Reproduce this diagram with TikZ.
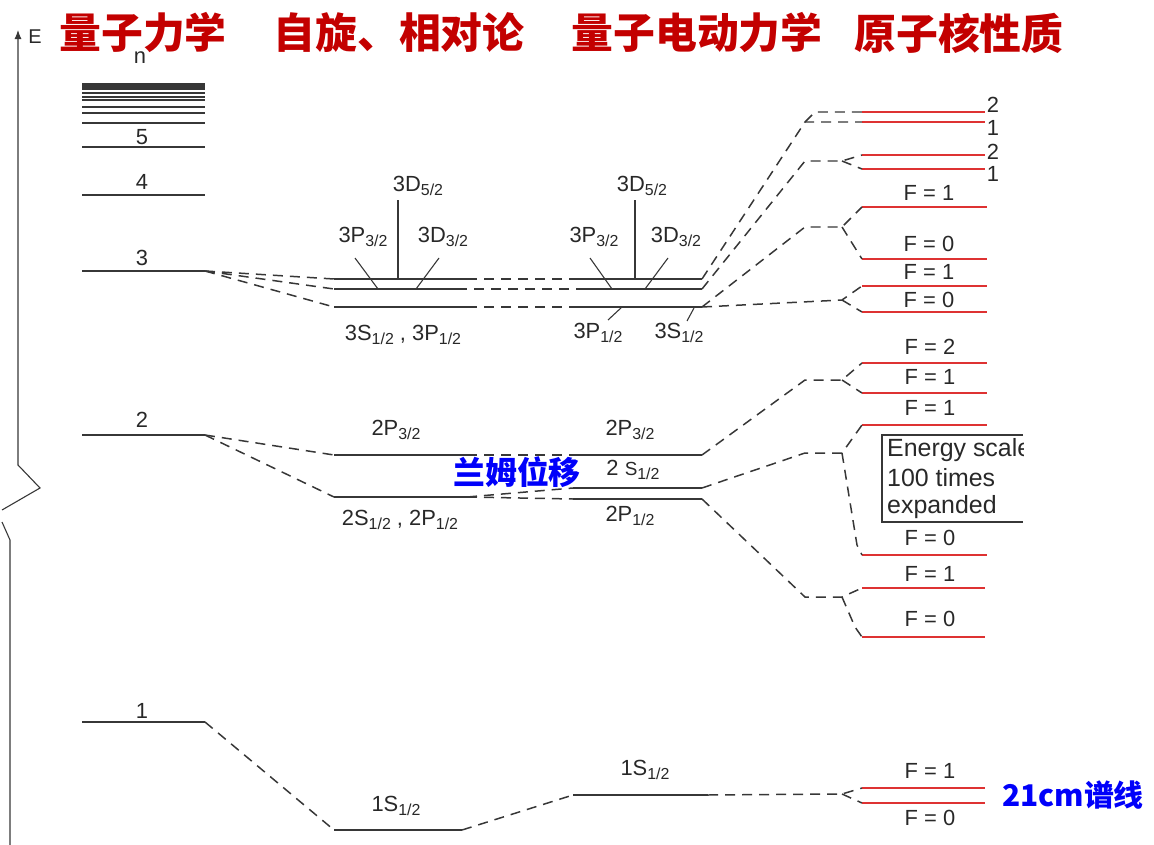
\documentclass[tikz,border=0pt]{standalone}
\usepackage{fontspec}
\setmainfont{Liberation Sans}
\newfontfamily\cjk{Noto Sans CJK SC}
\usetikzlibrary{arrows.meta}
\definecolor{lc}{RGB}{55,55,55}
\definecolor{tc}{RGB}{40,40,40}
\definecolor{hred}{RGB}{222,50,50}
\definecolor{tred}{RGB}{195,0,0}
\definecolor{tblue}{RGB}{0,0,250}
\newcommand\sbs[1]{\raisebox{-0.4ex}{\fontsize{16}{16}\selectfont #1}}
\tikzset{
  lvl/.style={line width=1.4pt, draw=lc},
  hf/.style={line width=1.6pt, draw=hred},
  dsh/.style={dash pattern=on 10bp off 7bp, line width=1.5pt, draw=lc},
  ptr/.style={line width=1.1pt, draw=lc},
  lab/.style={font=\fontsize{22}{24}\selectfont, text=tc, inner sep=0pt},
  flab/.style={font=\fontsize{22}{24}\selectfont, text=tc, inner sep=0pt},
  ttl/.style={font=\cjk\bfseries\fontsize{42}{42}\selectfont, text=tred, inner sep=0pt},
  blu/.style={font=\cjk\bfseries\fontsize{32}{32}\selectfont, text=tblue, inner sep=0pt},
  boxt/.style={font=\fontsize{25}{27}\selectfont, text=tc, inner sep=0pt, anchor=west},
}
\begin{document}
\begin{tikzpicture}[x=1bp,y=-1bp]
\useasboundingbox (0,0) rectangle (1154,845);
% axis
\coordinate (ax0) at (18,30);
\coordinate (ax1) at (18,465);
\coordinate (ax2) at (40,488);
\coordinate (ax3) at (2,510);
\coordinate (ax4) at (2,522);
\coordinate (ax5) at (10,540);
\coordinate (ax6) at (10,845);
\draw[ptr,{Latex[length=9bp,width=7bp]}-] (ax0) -- (ax1) -- (ax2) -- (ax3);
\draw[ptr] (ax4) -- (ax5) -- (ax6);
\node[lab,font=\fontsize{20}{20}\selectfont] (E) at (35,37) {E};
% n column
\fill[lc] (82,83) rectangle (205,90);
\foreach \y in {93,97,100,107,113,123} \draw[lvl,line width=1.2pt] (82,\y) -- (205,\y);
\foreach \n/\y in {5/147,4/195,3/271,2/435,1/722}{
  \coordinate (n\n a) at (82,\y);
  \coordinate (n\n b) at (205,\y);
  \draw[lvl] (n\n a) -- (n\n b);
}
\node[lab] (ln) at (140,58) {n};
\node[lab] (l5) at (142,137) {5};
\node[lab] (l4) at (142,182) {4};
\node[lab] (l3) at (142,258) {3};
\node[lab] (l2) at (142,420) {2};
\node[lab] (l1) at (142,711) {1};
% Dirac column
\coordinate (d3aL) at (334,279); \coordinate (d3aR) at (467,279);
\coordinate (d3bL) at (334,289); \coordinate (d3bR) at (457,289);
\coordinate (d3cL) at (334,307); \coordinate (d3cR) at (467,307);
\coordinate (d2aL) at (334,455); \coordinate (d2aR) at (467,455);
\coordinate (d2bL) at (334,497); \coordinate (d2bR) at (467,497);
\coordinate (d1L) at (334,830); \coordinate (d1R) at (462,830);
\foreach \c in {d3a,d3b,d3c,d2a,d2b,d1} \draw[lvl] (\c L) -- (\c R);
% QED column
\coordinate (q3aL) at (573,279); \coordinate (q3aR) at (702,279);
\coordinate (q3bL) at (578,289); \coordinate (q3bR) at (702,289);
\coordinate (q3cL) at (573,307); \coordinate (q3cR) at (702,307);
\coordinate (q2aL) at (573,455); \coordinate (q2aR) at (702,455);
\coordinate (q2bL) at (573,488); \coordinate (q2bR) at (702,488);
\coordinate (q2cL) at (573,499); \coordinate (q2cR) at (702,499);
\coordinate (q1L) at (573,795); \coordinate (q1R) at (708,795);
\foreach \c in {q3a,q3b,q2a,q2b,q2c,q1} \draw[lvl] (\c L) -- (\c R);
\draw[lvl] (q3cL) -- (q3cR);
\draw[lvl,line width=3pt] (578,307) -- (q3cR);
% dashed n -> Dirac
\foreach \c in {d3aL,d3bL,d3cL} \draw[dsh] (n3b) -- (\c);
\foreach \c in {d2aL,d2bL} \draw[dsh] (n2b) -- (\c);
\draw[dsh] (n1b) -- (d1L);
% dashed Dirac -> QED
\draw[dsh] (d3aR) -- (q3aL);
\draw[dsh] (d3bR) -- (q3bL);
\draw[dsh] (d3cR) -- (q3cL);
\draw[dsh] (d2aR) -- (q2aL);
\draw[dsh] (d2bR) -- (q2bL);
\draw[dsh] (d2bR) -- (q2cL);
\draw[dsh] (d1R) -- (q1L);
% labels Dirac
\node[lab] (a1) at (418,186) {3D\sbs{5/2}};
\node[lab] (a2) at (363,237) {3P\sbs{3/2}};
\node[lab] (a3) at (443,237) {3D\sbs{3/2}};
\node[lab] (a4) at (403,335) {3S\sbs{1/2} , 3P\sbs{1/2}};
\node[lab] (a5) at (396,430) {2P\sbs{3/2}};
\node[lab] (a6) at (400,520) {2S\sbs{1/2} , 2P\sbs{1/2}};
\node[lab] (a7) at (396,806) {1S\sbs{1/2}};
\draw[ptr] (398,200) -- (398,279);
\draw[ptr] (355,258) -- (378,289);
\draw[ptr] (439,258) -- (416,289);
% labels QED
\node[lab] (b1) at (642,186) {3D\sbs{5/2}};
\node[lab] (b2) at (594,237) {3P\sbs{3/2}};
\node[lab] (b3) at (676,237) {3D\sbs{3/2}};
\node[lab] (b4) at (598,333) {3P\sbs{1/2}};
\node[lab] (b5) at (679,333) {3S\sbs{1/2}};
\node[lab] (b6) at (630,430) {2P\sbs{3/2}};
\node[lab] (b7) at (633,470) {2 {\fontsize{19}{20}\selectfont S}\sbs{1/2}};
\node[lab] (b8) at (630,516) {2P\sbs{1/2}};
\node[lab] (b9) at (645,770) {1S\sbs{1/2}};
\draw[ptr] (635,200) -- (635,279);
\draw[ptr] (590,258) -- (612,289);
\draw[ptr] (668,258) -- (645,289);
\draw[ptr] (622,307) -- (608,320);
\draw[ptr] (694,308) -- (687,321);
% hyperfine red levels
\foreach \h/\y/\xe in {h1u/112/985,h1l/122/985,h2u/155/985,h2l/169/985,h3u/207/987,h3l/259/987,h4u/286/987,h4l/312/987,h5u/363/987,h5l/393/987,h6u/425/987,h6l/555/987,h7u/588/985,h7l/637/985,h8u/788/985,h8l/803/985}{
  \coordinate (\h L) at (862,\y);
  \coordinate (\h R) at (\xe,\y);
  \draw[hf] (\h L) -- (\h R);
}
% QED -> hyperfine connectors
\draw[dsh] (q3aR) -- (805,122) -- (h1lL);
\draw[dsh] (805,122) -- (815,112) -- (h1uL);
\draw[dsh] (q3bR) -- (805,161) -- (842,161) -- (h2uL);
\draw[dsh] (842,161) -- (h2lL);
\draw[dsh] (q3cR) -- (805,227) -- (842,227) -- (h3uL);
\draw[dsh] (842,227) -- (h3lL);
\draw[dsh] (q3cR) -- (842,300) -- (h4uL);
\draw[dsh] (842,300) -- (h4lL);
\draw[dsh] (q2aR) -- (805,380) -- (842,380) -- (h5uL);
\draw[dsh] (842,380) -- (h5lL);
\draw[dsh] (q2bR) -- (805,453) -- (842,453) -- (h6uL);
\draw[dsh] (842,453) -- (857,545) -- (h6lL);
\draw[dsh] (q2cR) -- (805,597) -- (842,597) -- (h7uL);
\draw[dsh] (842,597) -- (855,627) -- (h7lL);
\draw[dsh] (q1R) -- (842,794) -- (h8uL);
\draw[dsh] (842,794) -- (h8lL);
% hyperfine labels
\node[flab] (f1) at (993,105) {2};
\node[flab] (f2) at (993,128) {1};
\node[flab] (f3) at (993,152) {2};
\node[flab] (f4) at (993,174) {1};
\node[flab] (f5) at (929,193) {F = 1};
\node[flab] (f6) at (929,244) {F = 0};
\node[flab] (f7) at (929,272) {F = 1};
\node[flab] (f8) at (929,300) {F = 0};
\node[flab] (f9) at (930,347) {F = 2};
\node[flab] (f10) at (930,377) {F = 1};
\node[flab] (f11) at (930,408) {F = 1};
\node[flab] (f12) at (930,538) {F = 0};
\node[flab] (f13) at (930,574) {F = 1};
\node[flab] (f14) at (930,619) {F = 0};
\node[flab] (f15) at (930,771) {F = 1};
\node[flab] (f16) at (930,818) {F = 0};
% box
\coordinate (bx1) at (1023,435);
\coordinate (bx2) at (882,435);
\coordinate (bx3) at (882,522);
\coordinate (bx4) at (1023,522);
\draw[ptr,line width=1.2pt] (bx1) -- (bx2) -- (bx3) -- (bx4);
\begin{scope}
\clip (883,436) rectangle (1023,521);
\node[boxt] (t1) at (887,450) {Energy scale};
\node[boxt] (t2) at (887,478) {100 times};
\node[boxt] (t3) at (887,507) {expanded};
\end{scope}
% titles
\node[ttl] (T1) at (143,33) {量子力学};
\node[ttl] (T2) at (399,33) {自旋、相对论};
\node[ttl] (T3) at (697,33) {量子电动力学};
\node[ttl] (T4) at (959,33) {原子核性质};
\node[blu] (B1) at (517,472) {兰姆位移};
\node[blu,font=\cjk\bfseries\fontsize{30}{30}\selectfont] (B2) at (1073,795) {21cm谱线};
\end{tikzpicture}
\end{document}
